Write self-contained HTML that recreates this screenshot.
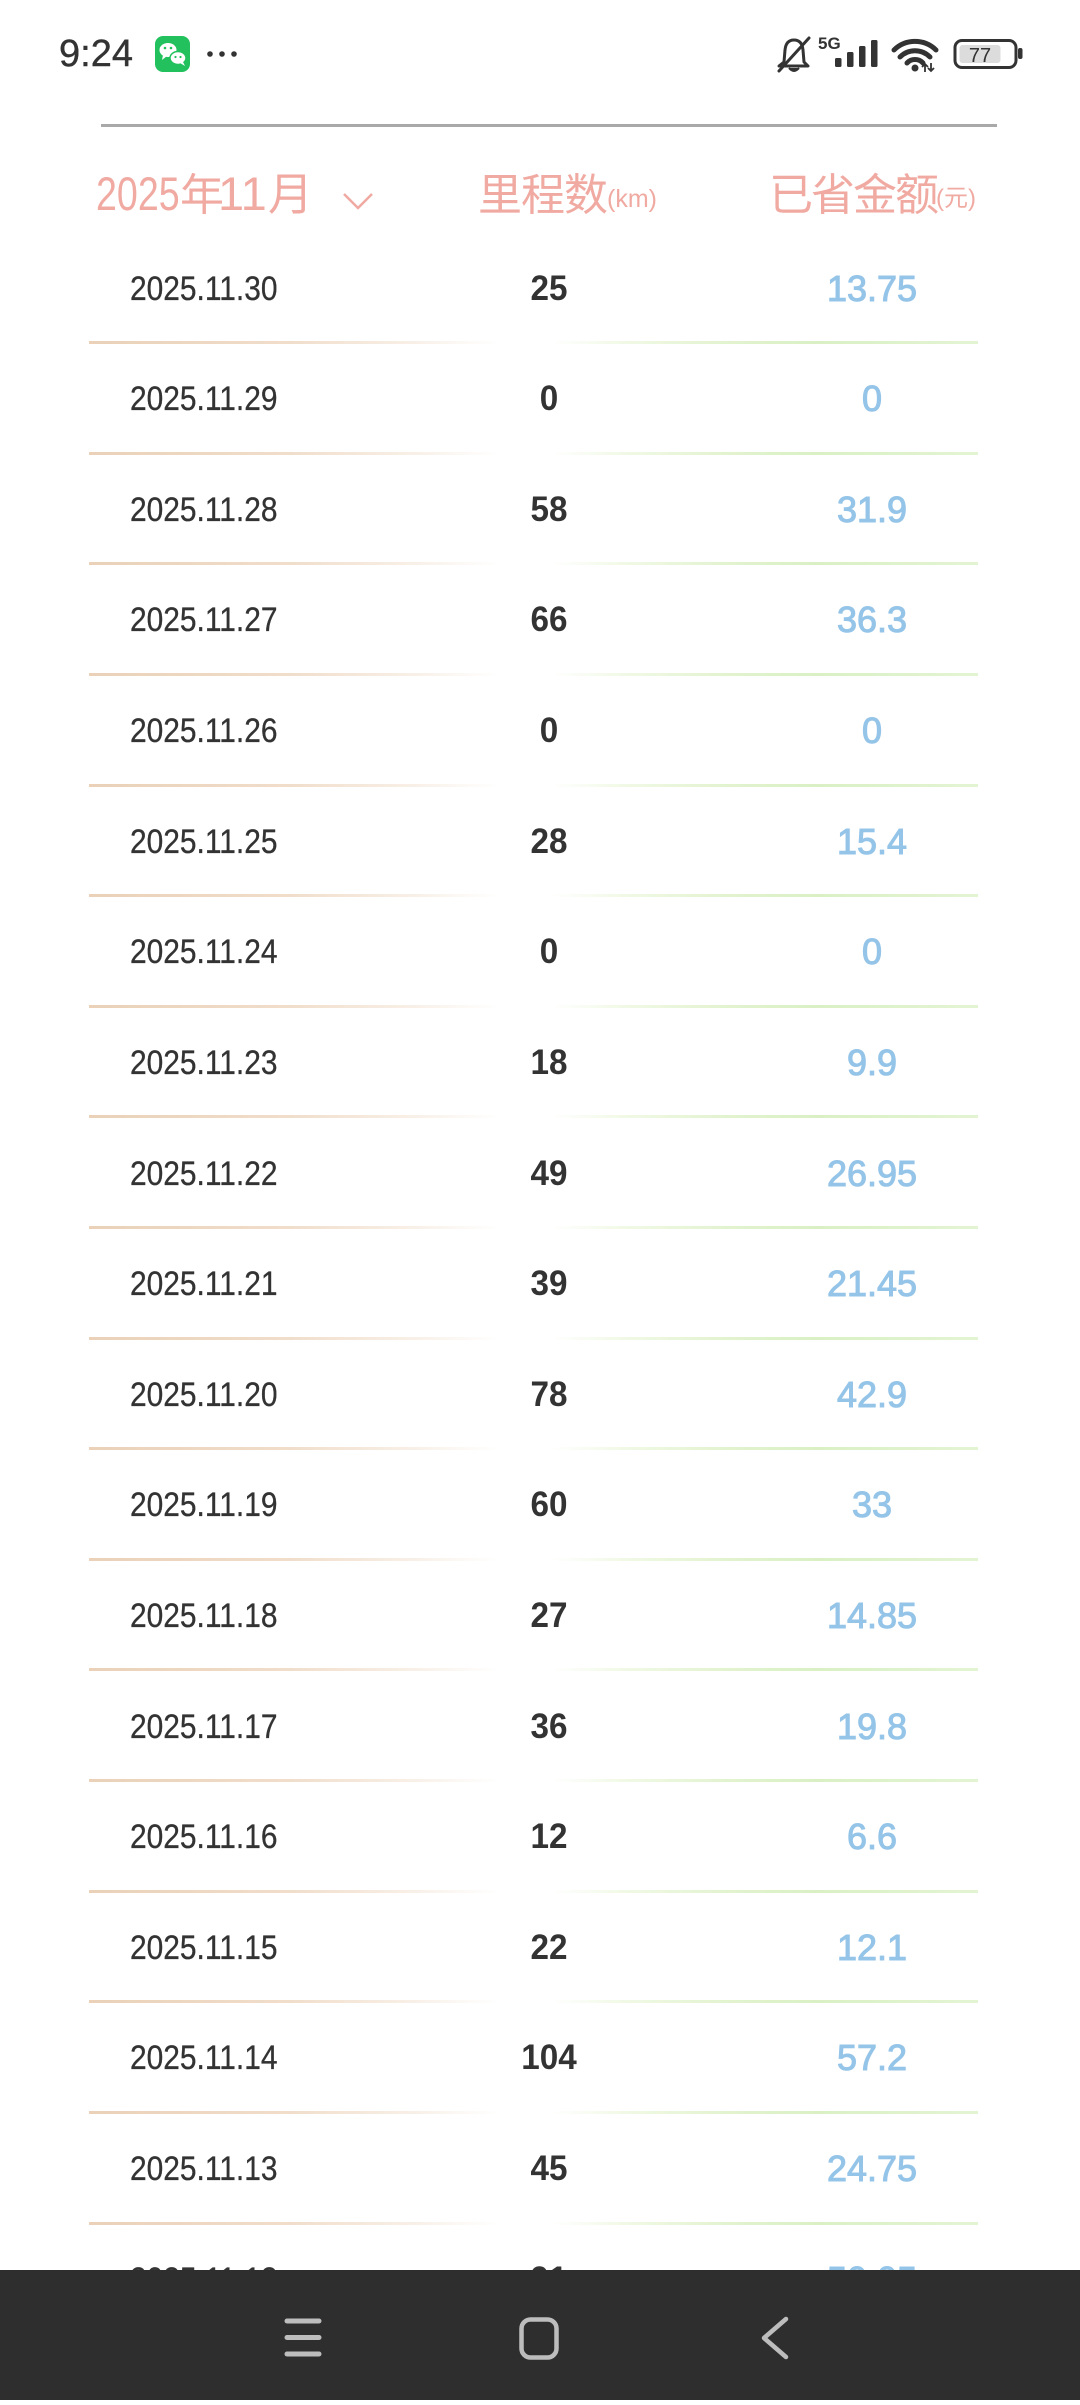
<!DOCTYPE html>
<html><head><meta charset="utf-8">
<style>
html,body{margin:0;padding:0;}
body{width:1080px;height:2400px;overflow:hidden;background:#fff;position:relative;font-family:"Liberation Sans","Noto Sans CJK SC",sans-serif;}
.abs{position:absolute;white-space:nowrap;}
.d{position:absolute;left:130px;line-height:50px;font-size:34px;color:#333;transform:scaleX(.88);transform-origin:0 50%;white-space:nowrap;-webkit-text-stroke:0.3px #333;}
.m{position:absolute;left:449px;width:200px;text-align:center;line-height:50px;font-size:35px;font-weight:bold;color:#333;transform:scaleX(.95);}
.a{position:absolute;left:772px;width:200px;text-align:center;line-height:50px;font-size:36px;font-weight:normal;color:#94c4e8;-webkit-text-stroke:1px #94c4e8;}
.sep{position:absolute;left:89px;width:889px;height:3px;background:linear-gradient(to right,#ead1b8 0%,#f0ddca 22%,#f8efe6 36%,rgba(255,255,255,0) 46%,rgba(255,255,255,0) 52%,#f1f9e6 60%,#e2f3cf 72%,#daf0c4 82%,#e3f4d3 100%);}
.pk{color:#f0aaa2;}
.nav{position:absolute;left:0;top:2270px;width:1080px;height:130px;background:#2e2e2e;z-index:5;}
</style></head>
<body>

<!-- status bar -->
<div class="abs" style="left:59px;top:29px;font-size:38px;line-height:50px;color:#333;-webkit-text-stroke:0.4px #333;">9:24</div>
<svg class="abs" style="left:0;top:0" width="1080" height="100" viewBox="0 0 1080 100">
  <rect x="155" y="36" width="35" height="36" rx="8" fill="#22c15e"/>
  <ellipse cx="168" cy="50" rx="8.5" ry="7" fill="#fff"/>
  <path d="M163 55 L162 60 L167 56 Z" fill="#fff"/>
  <ellipse cx="178" cy="58" rx="8" ry="6.5" fill="#fff" stroke="#22c15e" stroke-width="1.5"/>
  <path d="M183 62 L185 66 L180 63 Z" fill="#fff"/>
  <circle cx="165" cy="48" r="1.3" fill="#22c15e"/><circle cx="171" cy="48" r="1.3" fill="#22c15e"/>
  <circle cx="175.5" cy="57" r="1.1" fill="#22c15e"/><circle cx="180.5" cy="57" r="1.1" fill="#22c15e"/>
  <circle cx="210" cy="54" r="2.8" fill="#333"/><circle cx="222" cy="54" r="2.8" fill="#333"/><circle cx="234" cy="54" r="2.8" fill="#333"/>
  <path d="M784 62 L785 50 Q786 40 794 40 Q802 40 803 50 L804 62 L808 66 L779 66 Z" fill="none" stroke="#333" stroke-width="3" stroke-linejoin="round"/>
  <path d="M789 68 Q794 74 799 68" fill="#333" stroke="#333" stroke-width="2"/>
  <line x1="809" y1="38" x2="779" y2="71" stroke="#333" stroke-width="3" stroke-linecap="round"/>
  <text x="818" y="49" font-family="Liberation Sans" font-weight="bold" font-size="17" fill="#333">5G</text>
  <rect x="835" y="58" width="6.5" height="9" rx="1.5" fill="#333"/>
  <rect x="847" y="52" width="6.5" height="15" rx="1.5" fill="#333"/>
  <rect x="859" y="46" width="6.5" height="21" rx="1.5" fill="#333"/>
  <rect x="871" y="40" width="6.5" height="27" rx="1.5" fill="#333"/>
  <path d="M894 50 A30 30 0 0 1 936 50" fill="none" stroke="#333" stroke-width="5" stroke-linecap="round"/>
  <path d="M900 57 A21 21 0 0 1 930 57" fill="none" stroke="#333" stroke-width="5" stroke-linecap="round"/>
  <path d="M907 63 A11 11 0 0 1 923 63" fill="none" stroke="#333" stroke-width="5" stroke-linecap="round"/>
  <circle cx="915" cy="68" r="3.5" fill="#333"/>
  <path d="M925 64 L925 72 M922 67 L925 64 L928 67 M931 63 L931 71 M928 68 L931 71 L934 68" stroke="#333" stroke-width="1.8" fill="none"/>
  <rect x="955" y="40.5" width="61" height="27" rx="7" fill="none" stroke="#333" stroke-width="3"/>
  <rect x="959.5" y="45" width="41" height="18" rx="3" fill="#dcdcdc"/>
  <rect x="1018" y="48" width="4.5" height="11" rx="2" fill="#333"/>
  <text x="980" y="62" text-anchor="middle" font-family="Liberation Sans" font-size="20" fill="#333">77</text>
</svg>

<!-- divider -->
<div class="abs" style="left:101px;top:124px;width:896px;height:3px;background:#a9a9a9;"></div>

<!-- header -->
<div class="abs pk" style="left:96px;top:169px;font-size:47px;line-height:50px;transform:scaleX(.8);transform-origin:0 50%;">2025</div>
<div class="abs pk" style="left:180px;top:166px;font-size:44px;line-height:50px;font-family:'Noto Sans CJK SC',sans-serif;">年</div>
<div class="abs pk" style="left:218px;top:169px;font-size:47px;line-height:50px;">11</div>
<div class="abs pk" style="left:268px;top:166px;font-size:45px;line-height:50px;font-family:'Noto Sans CJK SC',sans-serif;">月</div>
<svg class="abs" style="left:340px;top:188px" width="40" height="26"><polyline points="4,6 18,20 32,6" fill="none" stroke="#f0aaa2" stroke-width="2.5"/></svg>
<div class="abs pk" style="left:478px;top:166px;font-size:44px;line-height:50px;letter-spacing:-1px;font-family:'Noto Sans CJK SC',sans-serif;">里程数</div>
<div class="abs pk" style="left:607px;top:186px;font-size:25px;line-height:26px;">(km)</div>
<div class="abs pk" style="left:769px;top:166px;font-size:44px;line-height:50px;letter-spacing:-2px;font-family:'Noto Sans CJK SC',sans-serif;">已省金额</div>
<div class="abs pk" style="left:936px;top:186px;font-size:24px;line-height:26px;font-family:'Liberation Sans','Noto Sans CJK SC',sans-serif;">(元)</div>

<!-- rows -->
<div class="d" style="top:263.5px">2025.11.30</div><div class="m" style="top:263.5px">25</div><div class="a" style="top:263.5px">13.75</div>
<div class="sep" style="top:341px"></div>
<div class="d" style="top:374.1px">2025.11.29</div><div class="m" style="top:374.1px">0</div><div class="a" style="top:374.1px">0</div>
<div class="sep" style="top:451.6px"></div>
<div class="d" style="top:484.7px">2025.11.28</div><div class="m" style="top:484.7px">58</div><div class="a" style="top:484.7px">31.9</div>
<div class="sep" style="top:562.2px"></div>
<div class="d" style="top:595.4px">2025.11.27</div><div class="m" style="top:595.4px">66</div><div class="a" style="top:595.4px">36.3</div>
<div class="sep" style="top:672.9px"></div>
<div class="d" style="top:706px">2025.11.26</div><div class="m" style="top:706px">0</div><div class="a" style="top:706px">0</div>
<div class="sep" style="top:783.5px"></div>
<div class="d" style="top:816.6px">2025.11.25</div><div class="m" style="top:816.6px">28</div><div class="a" style="top:816.6px">15.4</div>
<div class="sep" style="top:894.1px"></div>
<div class="d" style="top:927.2px">2025.11.24</div><div class="m" style="top:927.2px">0</div><div class="a" style="top:927.2px">0</div>
<div class="sep" style="top:1004.7px"></div>
<div class="d" style="top:1037.8px">2025.11.23</div><div class="m" style="top:1037.8px">18</div><div class="a" style="top:1037.8px">9.9</div>
<div class="sep" style="top:1115.3px"></div>
<div class="d" style="top:1148.5px">2025.11.22</div><div class="m" style="top:1148.5px">49</div><div class="a" style="top:1148.5px">26.95</div>
<div class="sep" style="top:1226px"></div>
<div class="d" style="top:1259.1px">2025.11.21</div><div class="m" style="top:1259.1px">39</div><div class="a" style="top:1259.1px">21.45</div>
<div class="sep" style="top:1336.6px"></div>
<div class="d" style="top:1369.7px">2025.11.20</div><div class="m" style="top:1369.7px">78</div><div class="a" style="top:1369.7px">42.9</div>
<div class="sep" style="top:1447.2px"></div>
<div class="d" style="top:1480.3px">2025.11.19</div><div class="m" style="top:1480.3px">60</div><div class="a" style="top:1480.3px">33</div>
<div class="sep" style="top:1557.8px"></div>
<div class="d" style="top:1591px">2025.11.18</div><div class="m" style="top:1591px">27</div><div class="a" style="top:1591px">14.85</div>
<div class="sep" style="top:1668.4px"></div>
<div class="d" style="top:1701.6px">2025.11.17</div><div class="m" style="top:1701.6px">36</div><div class="a" style="top:1701.6px">19.8</div>
<div class="sep" style="top:1779.1px"></div>
<div class="d" style="top:1812.2px">2025.11.16</div><div class="m" style="top:1812.2px">12</div><div class="a" style="top:1812.2px">6.6</div>
<div class="sep" style="top:1889.7px"></div>
<div class="d" style="top:1922.8px">2025.11.15</div><div class="m" style="top:1922.8px">22</div><div class="a" style="top:1922.8px">12.1</div>
<div class="sep" style="top:2000.3px"></div>
<div class="d" style="top:2033.4px">2025.11.14</div><div class="m" style="top:2033.4px">104</div><div class="a" style="top:2033.4px">57.2</div>
<div class="sep" style="top:2110.9px"></div>
<div class="d" style="top:2144px">2025.11.13</div><div class="m" style="top:2144px">45</div><div class="a" style="top:2144px">24.75</div>
<div class="sep" style="top:2221.5px"></div>
<div class="d" style="top:2254.7px">2025.11.12</div><div class="m" style="top:2254.7px">91</div><div class="a" style="top:2254.7px">50.05</div>

<!-- nav bar -->
<div class="nav">
  <svg width="1080" height="130" viewBox="0 2270 1080 130">
    <g stroke="#bdbdbd" stroke-width="5" stroke-linecap="round" fill="none">
      <line x1="287" y1="2321" x2="319" y2="2321"/>
      <line x1="287" y1="2337.5" x2="319" y2="2337.5"/>
      <line x1="287" y1="2354" x2="319" y2="2354"/>
      <rect x="521.5" y="2319.5" width="35" height="38" rx="9" stroke-width="4.5"/>
      <polyline points="786,2319 764,2338 786,2357" stroke-width="4.5" stroke-linejoin="round"/>
    </g>
  </svg>
</div>
</body></html>
